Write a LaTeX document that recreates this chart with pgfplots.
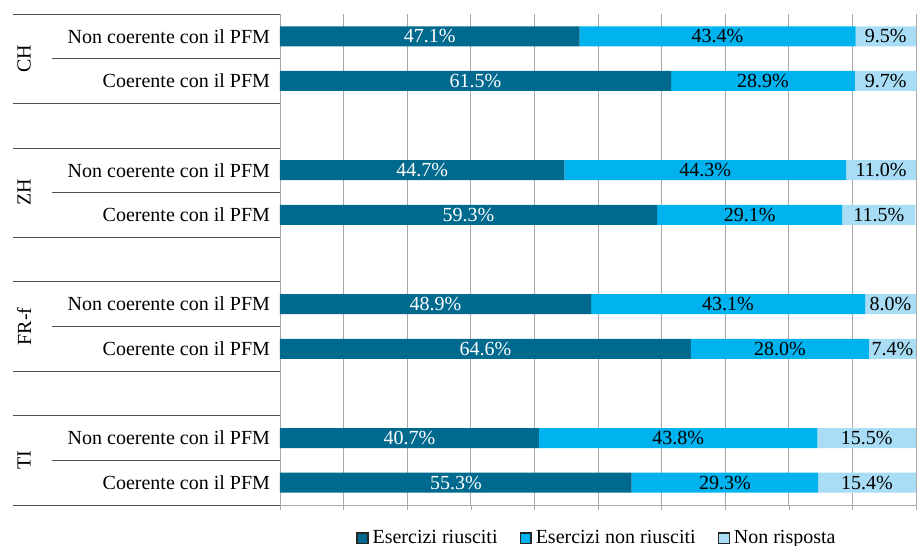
\documentclass[border=0pt]{standalone}
\usepackage{fontspec}
\setmainfont{Liberation Serif}
\usepackage{pgfplots}
\usepackage{pgfplotstable}
\pgfplotsset{compat=1.18}

\definecolor{riusciti}{HTML}{00698E}
\definecolor{nonriusciti}{HTML}{00B2EE}
\definecolor{nonrisposta}{HTML}{A8DDF5}
\definecolor{gridgray}{HTML}{A8A8A8}
\definecolor{sepgray}{HTML}{505050}

% positions: 10/9 = CH, 7/6 = ZH, 4/3 = FR-f, 1/0 = TI
\pgfplotstableread{
pos ok ko na
10 47.1 43.4  9.5
9  61.5 28.9  9.7
7  44.7 44.3 11.0
6  59.3 29.1 11.5
4  48.9 43.1  8.0
3  64.6 28.0  7.4
1  40.7 43.8 15.5
0  55.3 29.3 15.4
}\shares

\begin{document}
\begin{tikzpicture}
\begin{axis}[
  name=ax,
  xbar stacked,
  scale only axis,
  width=318pt, height=245.5pt,
  xmin=0, xmax=100,
  ymin=-0.5, ymax=10.5,
  bar width=10pt,
  axis x line*=bottom,
  axis y line*=left,
  axis line style={gridgray, -},
  xtick={0,10,...,100},
  xticklabels={},
  tick align=outside,
  major tick length=2.5pt,
  x tick style={gridgray},
  xmajorgrids,
  grid style={gridgray},
  ytick={0,1,3,4,6,7,9,10},
  yticklabels={Coerente con il PFM, Non coerente con il PFM,
               Coerente con il PFM, Non coerente con il PFM,
               Coerente con il PFM, Non coerente con il PFM,
               Coerente con il PFM, Non coerente con il PFM},
  y tick style={draw=none},
  yticklabel style={font=\normalsize, xshift=1pt},
  clip=false,
  point meta=explicit,
  nodes near coords={\pgfmathprintnumber[fixed,fixed zerofill,precision=1,assume math mode=true]{\pgfplotspointmeta}\%},
  every node near coord/.append style={font=\normalsize, anchor=center},
  legend columns=3,
  legend style={draw=none, at={(0.5,-0.068)}, anchor=center, font=\normalsize,
    /tikz/every even column/.append style={column sep=9pt}},
  legend image code/.code={\draw[#1, draw=black!85, line width=0.7pt] (0pt,-2.7pt) rectangle (5.4pt,2.7pt);},
]
\addplot[fill=riusciti, draw=none,
  every node near coord/.append style={text=white}]
  table[x=ok, y=pos, meta=ok] {\shares};
\addplot[fill=nonriusciti, draw=none,
  every node near coord/.append style={text=black}]
  table[x=ko, y=pos, meta=ko] {\shares};
\addplot[fill=nonrisposta, draw=none,
  every node near coord/.append style={text=black}]
  table[x=na, y=pos, meta=na] {\shares};
\legend{Esercizi riusciti, Esercizi non riusciti, Non risposta}

% label table on the left
\pgfplotsinvokeforeach{10.5,8.5,7.5,5.5,4.5,2.5,1.5,-0.5}{
  \draw[sepgray] (axis cs:0,#1) -- ++(-133.5pt,0pt);
}
\pgfplotsinvokeforeach{9.5,6.5,3.5,0.5}{
  \draw[sepgray] (axis cs:0,#1) -- ++(-114pt,0pt);
}
\node[rotate=90] at ([xshift=-128pt]axis cs:0,9.5) {CH};
\node[rotate=90] at ([xshift=-128pt]axis cs:0,6.5) {ZH};
\node[rotate=90] at ([xshift=-128pt]axis cs:0,3.5) {FR-f};
\node[rotate=90] at ([xshift=-128pt]axis cs:0,0.5) {TI};
\end{axis}
\pgfresetboundingbox
\useasboundingbox ([xshift=-140pt,yshift=-20.5pt]ax.south west) rectangle ([xshift=0.5pt,yshift=7pt]ax.north east);
\end{tikzpicture}
\end{document}
